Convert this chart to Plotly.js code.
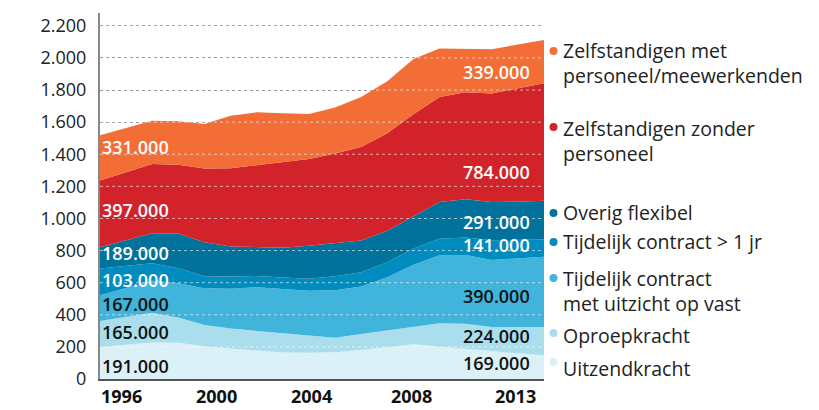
<!DOCTYPE html>
<html>
<head>
<meta charset="utf-8">
<script src="https://cdn.plot.ly/plotly-3.0.1.min.js"></script>
<style>html,body{margin:0;padding:0;background:#fff;}#chart{width:819px;height:410px;}</style>
</head>
<body>
<div id="chart"></div>
<script>
// ---- data (x 1000 persons) ----
const years = [1996,1997,1998,1999,2000,2001,2002,2003,2004,2005,2006,2007,2008,2009,2010,2011,2012,2013];
const uitzendkracht = [200,213,227,226,204,190,178,165,163,166,180,198,216,203,188,173,160,148];
const oproepkracht  = [162,174,185,157,133,124,121,119,106,91,100,103,106,144,156,151,164,176];
const tijdelijkVast = [160,180,200,214,228,248,273,276,280,296,296,333,389,424,429,418,427,437];
const tijdelijkLang = [166,137,109,93,75,76,70,73,75,87,89,94,102,102,109,123,116,108];
const overigFlex    = [133,159,187,216,212,187,179,185,206,207,198,195,199,229,237,238,237,241];
const zzp           = [416,426,431,429,459,488,511,533,540,558,582,608,638,654,667,676,708,733];
const zmp           = [282,275,269,271,277,327,329,305,281,287,311,324,344,303,271,275,272,269];

// series order: bottom -> top
const seriesNames = ["Uitzendkracht","Oproepkracht","Tijdelijk contract<br>met uitzicht op vast","Tijdelijk contract > 1 jr","Overig flexibel","Zelfstandigen zonder<br>personeel","Zelfstandigen met<br>personeel/meewerkenden"];
const seriesValues = [uitzendkracht, oproepkracht, tijdelijkVast, tijdelijkLang, overigFlex, zzp, zmp];
const startLabels = [191,165,167,103,189,397,331];
const endLabels   = [169,224,390,141,291,784,339];
const xTickVals = [1996,2000,2004,2008,2013];
const xTickText = ["1996","2000","2004","2008","2013"];

// ---- styling ----
const colors = ["#dcf0f7","#aadeec","#40b4da","#008cbf","#00729c","#d2232a","#f26e36"];
const labelColors = ["#111","#111","#111","#fff","#fff","#fff","#fff"];
const endLabelColors = ["#111","#111","#111","#fff","#fff","#fff","#fff"];
const startLabelY = [83,295,467,617,783,1053,1447];
const endLabelY = [98,268,519,832,980,1292,1915];
const legendY = [368,335,291,242,212,141,63];   // pixel centers
const dotY = [362,333,278,242,213,127,51];
const xTickShift = [0,12,3,-2,-7];
const xTickAnchor = ["left","center","center","center","right"];

const H = 410, T = 13, B = 31, L = 100, R = 275;
const plotH = H - T - B, plotW = 819 - L - R;
const py = y => (H - B - y) / plotH;
const px = x => (x - L) / plotW;

function fmt(n){ return String(n*1000).replace(/\B(?=(\d{3})+(?!\d))/g,'.'); }

const traces = seriesValues.map((vals,i)=>({
  x: years, y: vals, type:'scatter', mode:'lines', stackgroup:'one',
  name: seriesNames[i], line:{width:0, color:colors[i]}, fillcolor:colors[i],
  hoverinfo:'skip', showlegend:false
}));

const numFont = c => ({family:'Open Sans', size:18, weight:600, color:c});
const annotations = [];
startLabels.forEach((v,i)=>annotations.push({
  xref:'x', yref:'y', x:years[0], y:startLabelY[i], xanchor:'left', yanchor:'middle',
  xshift:1, borderpad:0, text:fmt(v), showarrow:false, font:numFont(labelColors[i])
}));
endLabels.forEach((v,i)=>annotations.push({
  xref:'x', yref:'y', x:years[years.length-1], y:endLabelY[i], xanchor:'right', yanchor:'middle',
  xshift:-13, borderpad:0, text:fmt(v), showarrow:false, font:numFont(endLabelColors[i])
}));
seriesNames.forEach((n,i)=>annotations.push({
  xref:'paper', yref:'paper', x:px(561), y:py(legendY[i]), xanchor:'left', yanchor:'middle', align:'left',
  text:n, showarrow:false, font:{family:'Open Sans', size:19.5, color:'#222'}
}));
xTickVals.forEach((v,i)=>annotations.push({
  xref:'x', yref:'paper', x:v, y:py(409), xanchor:xTickAnchor[i], yanchor:'bottom', xshift:xTickShift[i],
  borderpad:0, text:xTickText[i], showarrow:false, font:{family:'Open Sans', size:18, weight:700, color:'#111'}
}));

const shapes = [];
for (let g=200; g<=2200; g+=200){
  shapes.push({type:'line', xref:'paper', yref:'y', x0:0, x1:1, y0:g, y1:g, layer:'above',
    line:{color:'rgba(255,255,255,0.6)', width:1, dash:'dot'}});
}
colors.forEach((c,i)=>shapes.push({type:'circle', xref:'paper', yref:'paper',
  x0:px(549.5), x1:px(557.5), y0:py(dotY[i]+4), y1:py(dotY[i]-4), fillcolor:c, line:{width:0}}));

const layout = {
  width:819, height:410, margin:{l:L, r:R, t:T, b:B},
  paper_bgcolor:'#fff', plot_bgcolor:'#fff', separators:',.',
  showlegend:false,
  xaxis:{range:[1996,2013], showgrid:false, zeroline:false, showticklabels:false, ticks:'',
    showline:true, linecolor:'#555', linewidth:2, fixedrange:true},
  yaxis:{range:[0,2280], tick0:0, dtick:200, tickformat:',d', showgrid:true, gridcolor:'#6a6a6a', griddash:'dot', gridwidth:1,
    zeroline:false, showline:true, linecolor:'#888', linewidth:2, ticks:'', ticklabelstandoff:8,
    tickfont:{family:'Open Sans', size:18, color:'#222'}, fixedrange:true},
  annotations, shapes
};
Plotly.newPlot('chart', traces, layout, {staticPlot:true, displayModeBar:false});
</script>
</body>
</html>
